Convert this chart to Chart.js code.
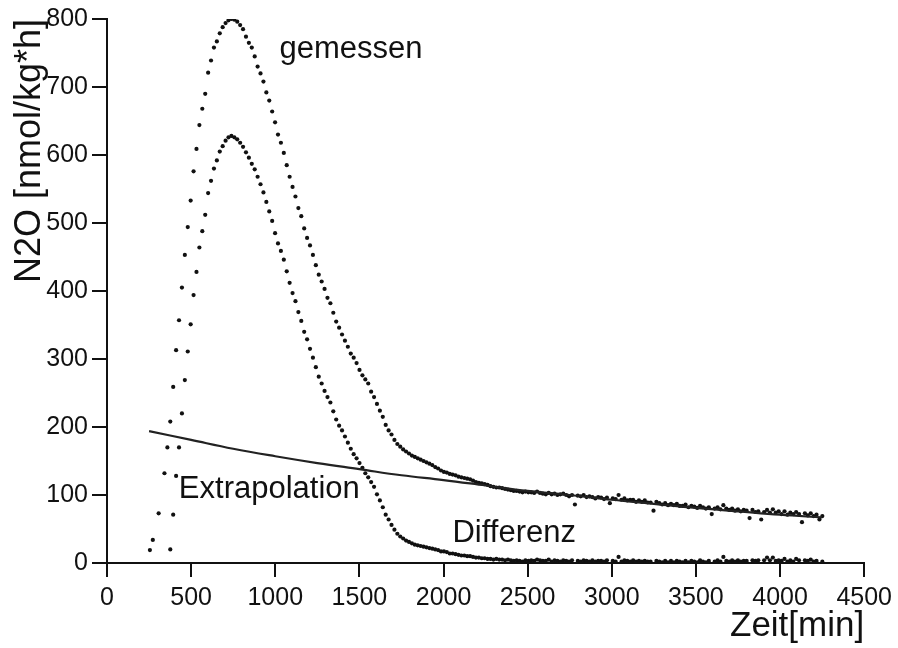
<!DOCTYPE html>
<html lang="de">
<head>
<meta charset="utf-8">
<title>N2O-Emission</title>
<script src="https://cdn.jsdelivr.net/npm/chart.js@4.4.1/dist/chart.umd.min.js"></script>
<style>
  html, body { margin: 0; padding: 0; background: #ffffff; }
  #n2oChart { display: block; }
</style>
</head>
<body>
<canvas id="n2oChart" width="898" height="648"></canvas>
<script>
// Messreihe: erster Messzeitpunkt und Abstand zwischen zwei Messungen [min]
const messStart = 255;
const messTakt = 17.3;

// N2O gemessen [nmol/kg*h], eine Zahl pro Messung (null = kein Wert)
const gemessen = [
  19, 34, null, 73, null, 132, 170, 208, 259, 313,
  357, 405, 453, 494, 533, 576, 609, 644, 668, 690,
  721, 739, 758, 767, 779, 788, 794, 798, 800, 799,
  796, 791, 785, 774, 765, 758, 745, 730, 720, 708,
  692, 680, 664, 648, 630, 618, 603, 585, 568, 553,
  539, 522, 510, 492, 478, 467, 453, 438, 424, 414,
  403, 390, 382, 368, 355, 346, 336, 327, 318, 308,
  302, 294, 284, 276, 270, 264, 252, 244, 234, 224,
  215, 203, 195, 189, 181, 175, 171, 167, 164, 161,
  158, 156, 154, 152, 150, 148, 146, 144, 141, 139,
  136, 134, 133, 131, 130, 129, 127, 126, 125, 124,
  123, 121, 119, 118, 117, 116, 115, 113, 112, 111,
  111, 110, 109, 108, 107, 106, 106, 105, 104, 105,
  104, 104, 103, 105, 103, 102, 101, 103, 101, 102,
  100, 101, 102, 100, 98, 100, 86, 99, 98, 100,
  97, 98, 97, 95, 97, 96, 94, 96, 88, 95,
  94, 100, 93, 95, 92, 93, 93, 90, 92, 90,
  92, 89, 89, 77, 90, 88, 86, 88, 85, 87,
  85, 87, 84, 84, 86, 82, 84, 83, 81, 84,
  82, 80, 82, 72, 80, 82, 79, 85, 80, 78,
  80, 77, 79, 76, 78, 77, 66, 78, 75, 76,
  64, 75, 78, 74, 79, 74, 76, 72, 76, 71,
  74, 72, 75, 72, 60, 73, 70, 73, 69, 71,
  64, 69,
];

// Differenz = gemessen minus Extrapolation, gleiche Messzeitpunkte
const differenz = [
  null, null, null, null, null, null, null, 20, 71, 128,
  170, 220, 269, 311, 351, 394, 428, 464, 488, 512,
  544, 562, 580, 592, 605, 613, 621, 626, 628, 626,
  623, 618, 612, 604, 596, 587, 579, 568, 557, 545,
  531, 517, 503, 485, 470, 459, 446, 429, 412, 397,
  385, 369, 356, 340, 329, 315, 302, 288, 274, 264,
  253, 244, 236, 223, 211, 202, 195, 186, 177, 168,
  160, 154, 147, 140, 132, 126, 119, 112, 101, 92,
  82, 71, 64, 56, 49, 43, 39, 36, 33, 31,
  29, 27, 26, 25, 24, 23, 22, 21, 20, 19,
  17, 17, 16, 14, 14, 13, 12, 11, 11, 10,
  10, 9, 8, 8, 7, 7, 6, 6, 5, 6,
  5, 5, 4, 5, 4, 3, 4, 3, 2, 4,
  3, 4, 3, 5, 4, 3, 3, 5, 2, 4,
  3, 2, 4, 3, 2, 4, null, 3, 2, 4,
  3, 2, 4, 2, 3, 3, 2, 4, null, 3,
  2, 9, 2, 4, 3, 2, 4, 2, 3, 2,
  3, 2, 2, null, 3, 2, 1, 3, 1, 3,
  1, 3, 2, 1, 3, 1, 3, 2, 1, 4,
  2, 1, 3, null, 2, 4, 2, 9, 3, 2,
  4, 2, 4, 2, 3, 3, null, 4, 3, 4,
  null, 4, 8, 4, 8, 3, 4, 3, 6, 2,
  4, 2, 6, 4, null, 4, 3, 5, 2, 3,
  null, 2,
];

// Extrapolierte Grundlinie
const extrapolationZeit = [250, 500, 750, 1000, 1250, 1500, 1750, 2000, 2250, 2500, 2750, 3000, 3250, 3500, 3750, 4000, 4250];
const extrapolationWerte = [194, 181, 168, 157, 147, 138, 129, 122, 114, 106, 100, 93, 87, 81, 76, 71, 67];

// Achsen
const zeitMax = 4500;
const zeitSchritt = 500;
const n2oMax = 800;
const n2oSchritt = 100;

// Beschriftungen im Diagramm (Lage in Achsenwerten)
const beschriftungen = [
  { text: "gemessen", zeit: 1025, wert: 743 },
  { text: "Extrapolation", zeit: 427, wert: 96 },
  { text: "Differenz", zeit: 2053, wert: 31 },
];

const schrift = '"Liberation Sans", Arial, sans-serif';
const schwarz = "#111111";

function alsPunkte(werte) {
  return werte
    .map((wert, i) => ({ x: messStart + i * messTakt, y: wert }))
    .filter((punkt) => punkt.y !== null);
}

function punktReihe(label, werte) {
  return {
    label,
    data: alsPunkte(werte),
    pointRadius: 2.1,
    pointHoverRadius: 2.1,
    pointBackgroundColor: schwarz,
    pointBorderWidth: 0,
  };
}

const beschriftungPlugin = {
  id: "beschriftungen",
  afterDatasetsDraw(chart) {
    const { ctx, scales } = chart;
    ctx.save();
    ctx.font = `31px ${schrift}`;
    ctx.fillStyle = schwarz;
    ctx.textAlign = "left";
    ctx.textBaseline = "alphabetic";
    beschriftungen.forEach((b) => {
      ctx.fillText(b.text, scales.x.getPixelForValue(b.zeit), scales.y.getPixelForValue(b.wert));
    });
    ctx.restore();
  },
};

new Chart(document.getElementById("n2oChart"), {
  type: "scatter",
  data: {
    datasets: [
      {
        type: "line",
        label: "Extrapolation",
        data: extrapolationZeit.map((zeit, i) => ({ x: zeit, y: extrapolationWerte[i] })),
        borderColor: "#222222",
        borderWidth: 2.2,
        pointRadius: 0,
        tension: 0.4,
        fill: false,
      },
      punktReihe("gemessen", gemessen),
      punktReihe("Differenz", differenz),
    ],
  },
  options: {
    responsive: false,
    animation: false,
    events: [],
    layout: { padding: { top: 16, right: 32, bottom: 0, left: 0 } },
    plugins: {
      legend: { display: false },
      tooltip: { enabled: false },
    },
    scales: {
      x: {
        type: "linear",
        min: 0,
        max: zeitMax,
        ticks: {
          stepSize: zeitSchritt,
          color: schwarz,
          padding: 6,
          maxRotation: 0,
          font: { family: schrift, size: 25 },
          callback: (wert) => String(wert),
        },
        grid: { drawOnChartArea: false, tickLength: 14, lineWidth: 2, color: schwarz },
        border: { color: schwarz, width: 2 },
        title: {
          display: true,
          text: "Zeit[min]",
          align: "end",
          color: schwarz,
          font: { family: schrift, size: 35 },
          padding: { top: 0, bottom: 1 },
        },
        afterFit(scale) {
          scale.height = 85;
        },
      },
      y: {
        min: 0,
        max: n2oMax,
        ticks: {
          stepSize: n2oSchritt,
          color: schwarz,
          padding: 4,
          font: { family: schrift, size: 25 },
          callback: (wert) => String(wert),
        },
        grid: { drawOnChartArea: false, tickLength: 15, lineWidth: 2, color: schwarz },
        border: { color: schwarz, width: 2 },
        title: {
          display: true,
          text: "N2O [nmol/kg*h]",
          align: "end",
          color: schwarz,
          font: { family: schrift, size: 36 },
          padding: { top: 8, bottom: 0 },
        },
        afterFit(scale) {
          scale.width = 107;
        },
      },
    },
  },
  plugins: [beschriftungPlugin],
});
</script>
</body>
</html>
